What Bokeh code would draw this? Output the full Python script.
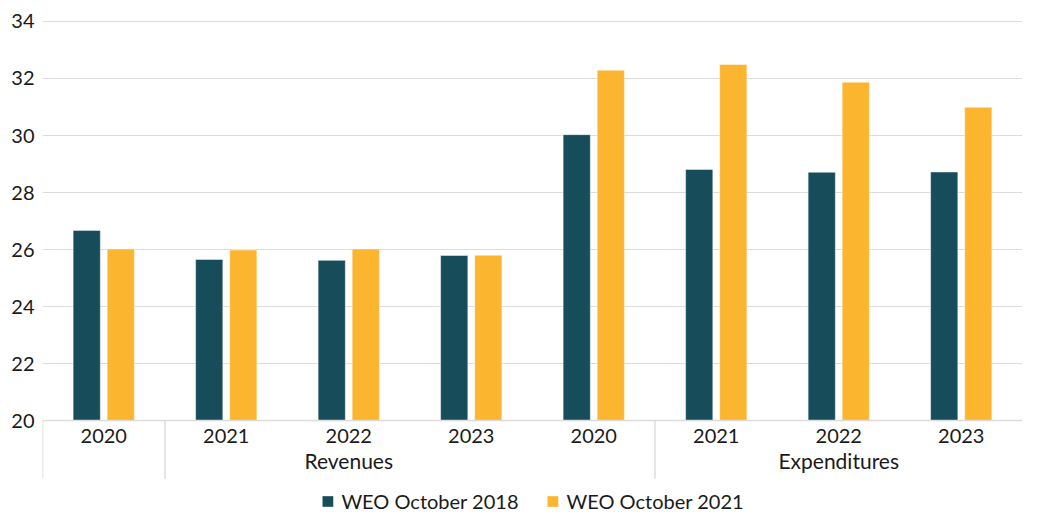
from bokeh.plotting import figure
from bokeh.models import FactorRange, Range1d, FixedTicker, ColumnDataSource, Legend, LegendItem
from bokeh.transform import dodge
from bokeh.embed import file_html
from bokeh.resources import INLINE

# ---- data ----
years = ["2020", "2021", "2022", "2023", "2020", "2021", "2022", "2023"]
groups = ["", "Revenues", "Revenues", "Revenues", " ", "Expenditures", "Expenditures", "Expenditures"]
weo_2018 = [26.67, 25.65, 25.62, 25.79, 30.03, 28.81, 28.71, 28.72]
weo_2021 = [26.02, 25.98, 26.02, 25.80, 32.29, 32.49, 31.87, 30.99]
series_names = ["WEO October 2018", "WEO October 2021"]
y_ticks = [20, 22, 24, 26, 28, 30, 32, 34]
separator_starts = [("", "2020"), ("Revenues", "2021"), ("Expenditures", "2021")]

# ---- styling ----
TEAL = "#174D5A"
GOLD = "#FCB52E"
GRID = "#DCDCDC"
TEXT = "#1A1A1A"
FONT = "Lato"
BASE = 20
SEP_BOTTOM = 17.96

factors = list(zip(groups, years))
src = ColumnDataSource(dict(x=factors, weo_2018=weo_2018, weo_2021=weo_2021))

x_range = FactorRange(*factors, factor_padding=0, group_padding=0, subgroup_padding=0, range_padding=0)
p = figure(width=1022, height=513, x_range=x_range, y_range=Range1d(16.74, 34.42),
           output_backend="svg", toolbar_location=None,
           min_border_left=42, min_border_right=0, min_border_top=9, min_border_bottom=0)
p.outline_line_color = None
p.background_fill_color = "white"
p.border_fill_color = "white"

r1 = p.vbar(x=dodge("x", -0.139, range=p.x_range), top="weo_2018", bottom=BASE, width=0.222,
            source=src, fill_color=TEAL, line_color="white", line_alpha=0.45, line_width=1)
r2 = p.vbar(x=dodge("x", 0.139, range=p.x_range), top="weo_2021", bottom=BASE, width=0.222,
            source=src, fill_color=GOLD, line_color="white", line_alpha=0.45, line_width=1)

sep_src = ColumnDataSource(dict(x=separator_starts))
p.segment(x0=dodge("x", -0.5, range=p.x_range), y0=BASE,
          x1=dodge("x", -0.5, range=p.x_range), y1=SEP_BOTTOM,
          source=sep_src, line_color=GRID, line_width=1.5)

# y axis
p.yaxis.ticker = FixedTicker(ticks=y_ticks)
p.yaxis.axis_line_color = None
p.yaxis.major_tick_line_color = None
p.yaxis.minor_tick_line_color = None
p.yaxis.major_label_standoff = 2
p.yaxis.major_label_text_font = FONT
p.yaxis.major_label_text_font_size = "20px"
p.yaxis.major_label_text_color = TEXT
p.ygrid.ticker = FixedTicker(ticks=y_ticks)
p.ygrid.grid_line_color = GRID
p.ygrid.grid_line_width = 1
p.xgrid.grid_line_color = None

# x axis
xa = p.xaxis[0]
xa.fixed_location = BASE
xa.axis_line_color = GRID
xa.axis_line_width = 1.5
xa.major_tick_line_color = None
xa.minor_tick_line_color = None
xa.separator_line_color = None
xa.major_label_standoff = 2
xa.major_label_text_font = FONT
xa.major_label_text_font_size = "20px"
xa.major_label_text_color = TEXT
xa.group_text_font = FONT
xa.group_text_font_size = "21px"
xa.group_text_font_style = "normal"
xa.group_text_color = TEXT

legend = Legend(items=[LegendItem(label=series_names[0], renderers=[r1]),
                       LegendItem(label=series_names[1], renderers=[r2])],
                location="bottom_center", orientation="horizontal",
                glyph_width=14, glyph_height=14, label_standoff=7, spacing=27,
                label_text_font=FONT, label_text_font_size="20px", label_text_color=TEXT,
                label_height=16, padding=0, margin=0, border_line_color=None,
                background_fill_alpha=0)
p.add_layout(legend)

open("out.html", "w").write(file_html(p, INLINE))
